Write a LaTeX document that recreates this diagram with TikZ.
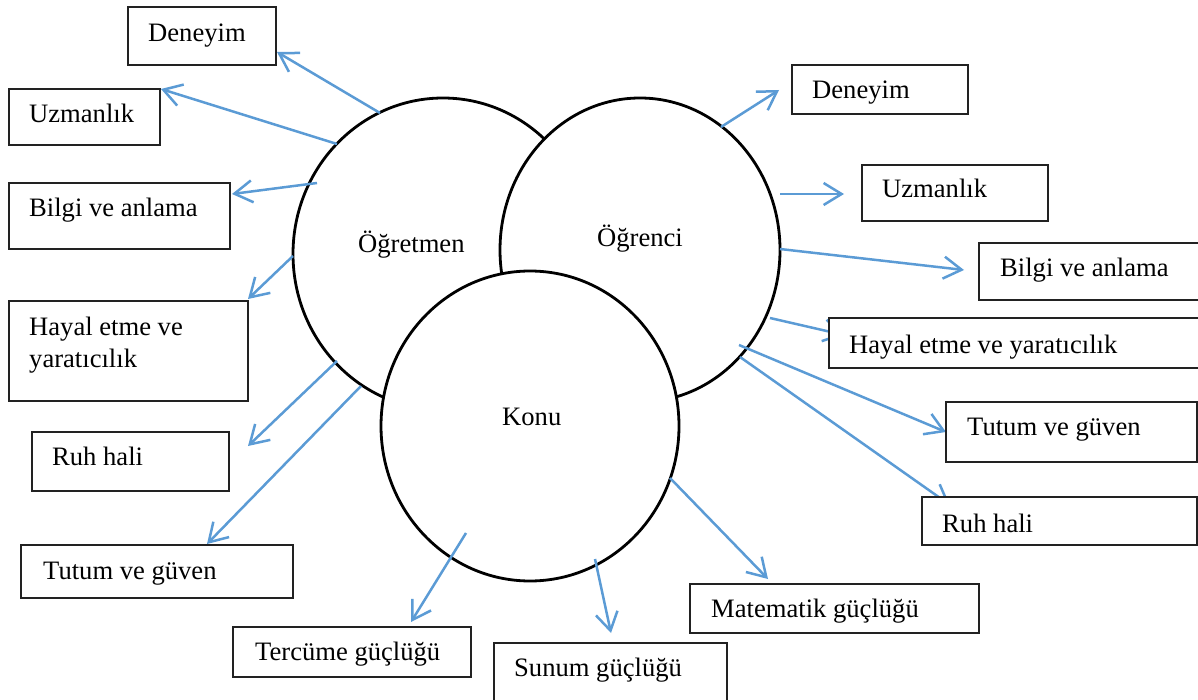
\documentclass[tikz,border=0pt]{standalone}
\usepackage{fontspec}
\setmainfont{Liberation Serif}
\usetikzlibrary{arrows.meta,fit,shapes.geometric}
\definecolor{arrblue}{HTML}{5B9BD5}
\definecolor{boxline}{HTML}{222222}
\begin{document}
\begin{tikzpicture}[x=1pt,y=-1pt,
  ell/.style={ellipse, draw=black, line width=2.8pt, fill=white, inner sep=0pt, outer sep=0pt},
  box/.style={rectangle, draw=boxline, line width=2pt, fill=white, inner sep=0pt, outer sep=0pt},
  txt/.style={inner sep=0pt, anchor=base west, font=\fontsize{26.6}{32}\selectfont},
  arr/.style={draw=arrblue, line width=2.5pt, -{Straight Barb[length=18pt,width=22pt]}}]
\useasboundingbox (0,0) rectangle (1198,700);
% circles
\node[ell, minimum width=300pt, minimum height=312pt] (ogretmen) at (443,254) {};
\node[txt] (tOgretmen) at (358,253) {Öğretmen};
\node[ell, minimum width=280pt, minimum height=304pt] (ogrenci) at (640,250) {};
\node[txt] (tOgrenci) at (597,247) {Öğrenci};
\node[ell, minimum width=298pt, minimum height=310pt] (konu) at (530,426) {};
\node[txt] (tKonu) at (502,425) {Konu};
% connector end points
\coordinate (sA1) at (380,113); \coordinate (eA1) at (277,52);
\coordinate (sA2) at (337,144); \coordinate (eA2) at (161,89);
\coordinate (sA3) at (317,183); \coordinate (eA3) at (232,194);
\coordinate (sA4) at (293,256); \coordinate (eA4) at (248,299);
\coordinate (sA5) at (337,361); \coordinate (eA5) at (248,446);
\coordinate (sA6) at (361,386); \coordinate (eA6) at (207,544);
\coordinate (sB1) at (721,127); \coordinate (eB1) at (779,90);
\coordinate (sB2) at (780,194); \coordinate (eB2) at (844,194);
\coordinate (sB3) at (780,249); \coordinate (eB3) at (964,270);
\coordinate (sB4) at (770,318); \coordinate (eB4) at (844,335);
\coordinate (sB5) at (739,345); \coordinate (eB5) at (946,432);
\coordinate (sB6) at (740,357); \coordinate (eB6) at (950,505);
\coordinate (sC1) at (466,533); \coordinate (eC1) at (411,622);
\coordinate (sC2) at (595,559); \coordinate (eC2) at (611,633);
\coordinate (sC3) at (670,478); \coordinate (eC3) at (768,579);
% connectors
\foreach \n in {A1,A2,A3,A4,A5,A6,B1,B2,B3,B4,B5,B6,C1,C2,C3}
  \draw[arr] (s\n) -- (e\n);
% boxes (left)
\node[box, fit={(128,7) (276,65)}] (bLdeney) {};
\node[txt] (tLdeney) at (148,42) {Deneyim};
\node[box, fit={(9,89) (160,145)}] (bLuzm) {};
\node[txt] (tLuzm) at (29,123) {Uzmanlık};
\node[box, fit={(9,183) (230,249)}] (bLbilgi) {};
\node[txt] (tLbilgi) at (29,217) {Bilgi ve anlama};
\node[box, fit={(9,301) (248,401)}] (bLhayal) {};
\node[txt] (tLhayal1) at (29,335) {Hayal etme ve};
\node[txt] (tLhayal2) at (29,367) {yaratıcılık};
\node[box, fit={(32,432) (229,491)}] (bLruh) {};
\node[txt] (tLruh) at (52,465) {Ruh hali};
\node[box, fit={(21,545) (293,598)}] (bLtutum) {};
\node[txt] (tLtutum) at (43,579) {Tutum ve güven};
% boxes (right)
\node[box, fit={(792,65) (968,114)}] (bRdeney) {};
\node[txt] (tRdeney) at (812,99) {Deneyim};
\node[box, fit={(862,165) (1048,221)}] (bRuzm) {};
\node[txt] (tRuzm) at (882,198) {Uzmanlık};
\node[box, fit={(979,243) (1230,300)}] (bRbilgi) {};
\node[txt] (tRbilgi) at (1000,277) {Bilgi ve anlama};
\node[box, fit={(829,318) (1230,368)}] (bRhayal) {};
\node[txt] (tRhayal) at (849,353) {Hayal etme ve yaratıcılık};
\node[box, fit={(946,402) (1197,462)}] (bRtutum) {};
\node[txt] (tRtutum) at (967,435) {Tutum ve güven};
\node[box, fit={(922,497) (1197,545)}] (bRruh) {};
\node[txt] (tRruh) at (942,532) {Ruh hali};
% boxes (bottom)
\node[box, fit={(233,627) (471,677)}] (bTerc) {};
\node[txt] (tTerc) at (255,660) {Tercüme güçlüğü};
\node[box, fit={(494,643) (727,730)}] (bSunum) {};
\node[txt] (tSunum) at (514,676) {Sunum güçlüğü};
\node[box, fit={(690,584) (979,633)}] (bMat) {};
\node[txt] (tMat) at (711,617) {Matematik güçlüğü};
\end{tikzpicture}
\end{document}
